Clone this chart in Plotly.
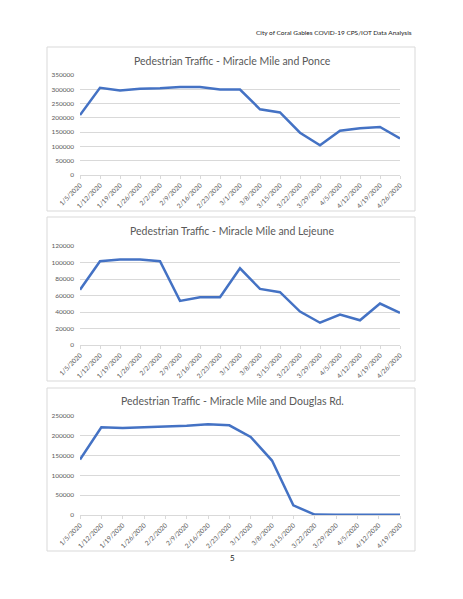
import plotly.graph_objects as go

# page is 463x599; the html body adds an 8px margin, so the figure is drawn 16px smaller
PAGE_W, PAGE_H = 463, 599
OFF = 8
W, H = PAGE_W - 2 * OFF, PAGE_H - 2 * OFF

# week labels
weeks_ponce = ["1/5/2020", "1/12/2020", "1/19/2020", "1/26/2020", "2/2/2020", "2/9/2020",
               "2/16/2020", "2/23/2020", "3/1/2020", "3/8/2020", "3/15/2020", "3/22/2020",
               "3/29/2020", "4/5/2020", "4/12/2020", "4/19/2020", "4/26/2020"]
weeks_lejeune = list(weeks_ponce)
weeks_douglas = weeks_ponce[:-1]

# weekly pedestrian counts
ponce = [210000, 305000, 296000, 302000, 304000, 308000, 308000, 299000, 299000,
         230000, 219000, 148000, 104000, 155000, 164000, 168000, 128000]
lejeune = [67000, 101500, 103500, 103500, 101500, 53500, 58000, 58000, 93000,
           68000, 64000, 40500, 27000, 37000, 30000, 50300, 39000]
douglas = [140000, 221500, 220000, 221500, 223000, 225500, 229000, 226500, 197000,
           137500, 24300, 1000, 500, 500, 500, 500]

titles = ["Pedestrian Traffic - Miracle Mile and Ponce",
          "Pedestrian Traffic - Miracle Mile and Lejeune",
          "Pedestrian Traffic - Miracle Mile and Douglas Rd."]

FONT = "Lato, Open Sans, sans-serif"
BLUE = "#4472C4"
GRID = "#D9D9D9"
TXT = "#595959"


def px(x):
    return (x - OFF) / W


def py(y):
    return 1 - (y - OFF) / H


# (box top, box bottom, plot top, plot bottom, title y) in page pixels
panels = [
    (47, 211, 75, 175, 61),
    (217, 381, 246, 345, 231),
    (388, 551, 416, 515, 401),
]
series = [(weeks_ponce, ponce, 350000, 50000),
          (weeks_lejeune, lejeune, 120000, 20000),
          (weeks_douglas, douglas, 250000, 50000)]

fig = go.Figure()
shapes = []
annotations = []

for i, ((bt, bb, pt, pb, ty), (cats, vals, ymax, step)) in enumerate(zip(panels, series), start=1):
    xa = "x" if i == 1 else f"x{i}"
    ya = "y" if i == 1 else f"y{i}"
    fig.add_trace(go.Scatter(x=cats, y=vals, mode="lines", xaxis=xa, yaxis=ya,
                             line=dict(color=BLUE, width=2.5), showlegend=False,
                             hoverinfo="x+y"))
    xkey = "xaxis" if i == 1 else f"xaxis{i}"
    ykey = "yaxis" if i == 1 else f"yaxis{i}"
    fig.update_layout({
        xkey: dict(domain=[px(80), px(400)], anchor=ya, type="category", automargin=False,
                   range=[0, len(cats) - 1], showgrid=False, zeroline=False,
                   showline=True, linecolor=GRID, linewidth=1,
                   ticks="outside", ticklen=3, tickcolor=GRID, tickangle=-45,
                   tickfont=dict(family=FONT, size=6.5, color=TXT)),
        ykey: dict(domain=[py(pb), py(pt)], anchor=xa, range=[0, ymax], dtick=step,
                   tickformat="d", showgrid=True, gridcolor=GRID, gridwidth=1,
                   automargin=False, zeroline=False, showline=False, ticks="",
                   ticklabelstandoff=5,
                   tickfont=dict(family=FONT, size=6.5, color=TXT)),
    })
    # chart border
    shapes.append(dict(type="rect", xref="paper", yref="paper",
                       x0=px(47), x1=px(415), y0=py(bb), y1=py(bt),
                       line=dict(color=GRID, width=1), fillcolor="rgba(0,0,0,0)"))
    annotations.append(dict(text=titles[i - 1], xref="paper", yref="paper",
                            x=px(232), y=py(ty), showarrow=False,
                            xanchor="center", yanchor="middle",
                            font=dict(family=FONT, size=10.5, color=TXT)))

annotations.append(dict(text="City of Coral Gables COVID-19 CPS/IOT Data Analysis",
                        xref="paper", yref="paper", x=px(414), y=py(32),
                        showarrow=False, xanchor="right", yanchor="middle",
                        font=dict(family=FONT, size=6.5, color="#222222")))
annotations.append(dict(text="5", xref="paper", yref="paper", x=px(232), y=py(558),
                        showarrow=False, xanchor="center", yanchor="middle",
                        font=dict(family=FONT, size=8, color="#222222")))

fig.update_layout(width=W, height=H, margin=dict(l=0, r=0, t=0, b=0),
                  paper_bgcolor="white", plot_bgcolor="white",
                  shapes=shapes, annotations=annotations)

fig.write_html("out.html")
